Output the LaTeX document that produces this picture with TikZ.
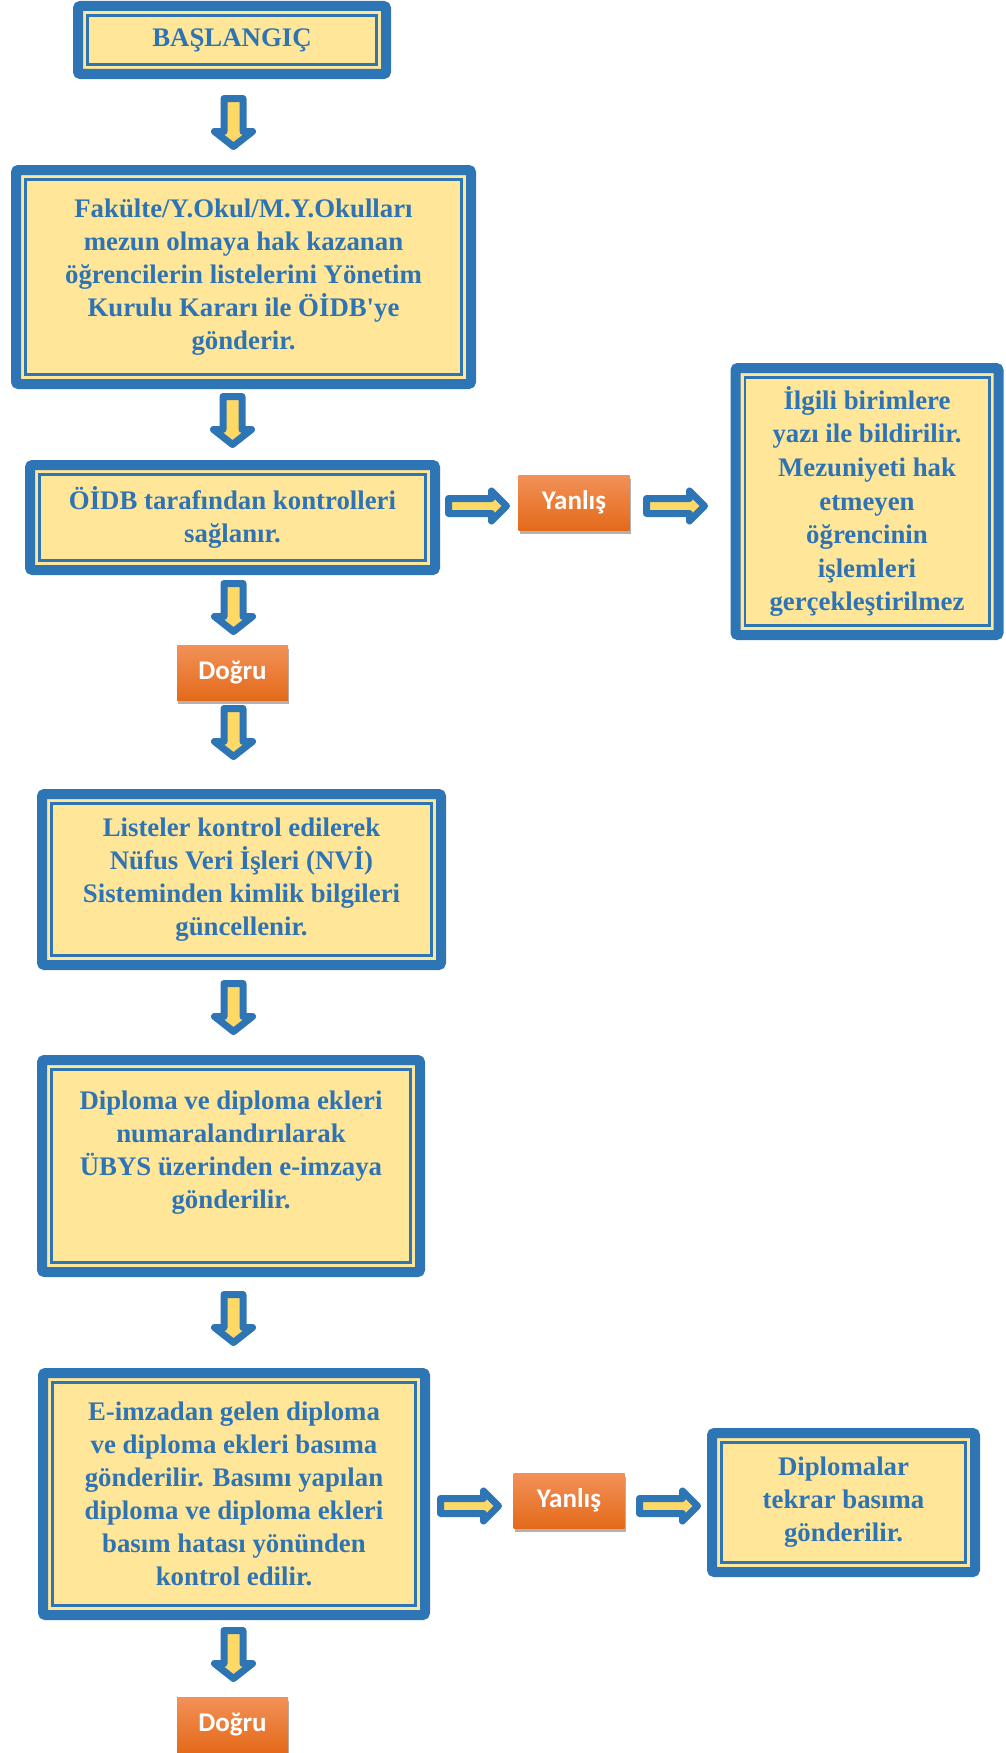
\documentclass[tikz,border=0pt]{standalone}
\usepackage{fontspec}
\setmainfont{Liberation Serif}
\newfontfamily\btnfont{Carlito}
\usetikzlibrary{calc,shadows}
\definecolor{bblue}{RGB}{46,117,182}
\definecolor{tblue}{RGB}{46,116,181}
\definecolor{byel}{RGB}{255,230,153}
\definecolor{ayel}{RGB}{255,217,102}
\definecolor{otop}{RGB}{242,145,88}
\definecolor{obot}{RGB}{228,106,26}
\begin{document}
\begin{tikzpicture}[x=1pt,y=-1pt,
  fbox/.style 2 args={draw=bblue, line width=10pt, rounded corners=2.5pt, fill=byel,
    text=tblue, align=center, inner sep=0pt,
    font=\fontsize{26.8}{33}\selectfont\bfseries,
    minimum width=#1-10pt, minimum height=#2-10pt,
    path picture={\draw[bblue, line width=2.8pt, sharp corners]
      ($(path picture bounding box.north west)+(9.4pt,-9.4pt)$) rectangle
      ($(path picture bounding box.south east)+(-9.4pt,9.4pt)$);}},
  btn/.style={minimum width=111pt, minimum height=55pt, inner sep=0pt,
    top color=otop, bottom color=obot, text=white,
    font=\btnfont\bfseries\fontsize{27}{32}\selectfont,
    drop shadow={shadow xshift=1pt, shadow yshift=-4pt, opacity=0.3, fill=black}},
  arrsty/.style={draw=bblue, line width=7pt, line join=round, fill=ayel},
  darr/.pic={\path[arrsty] (-9.5,3.5) -- (9.5,3.5) -- (9.5,36.5) -- (19,36.5) -- (0,51.5)
     -- (-19,36.5) -- (-9.5,36.5) -- cycle;},
  rarr/.pic={\path[arrsty] (3.5,-7.5) -- (46.5,-7.5) -- (46.5,-15) -- (61.5,0)
     -- (46.5,15) -- (46.5,7.5) -- (3.5,7.5) -- cycle;}
]
\useasboundingbox (0,0) rectangle (1005,1753);

% main column
\node[fbox={318pt}{78pt}] (start) at (232,40) {BAŞLANGIÇ};
\node[fbox={465pt}{224pt}] (fac) at (243.5,277) {Fakülte/Y.Okul/M.Y.Okulları\\mezun olmaya hak kazanan\\öğrencilerin listelerini Yönetim\\Kurulu Kararı ile ÖİDB\textquotesingle ye\\gönderir.};
\node[fbox={415pt}{115pt}] (oidb) at (232.5,517.5) {ÖİDB tarafından kontrolleri\\sağlanır.};
\node[btn] (dog1) at (232.5,672.5) {Doğru};
\node[fbox={409pt}{181pt}] (list) at (241.5,879.5) {Listeler kontrol edilerek\\Nüfus Veri İşleri (NVİ)\\Sisteminden kimlik bilgileri\\güncellenir.};
\node[fbox={388pt}{222pt}] (dipl) at (231,1166) {Diploma ve diploma ekleri\\numaralandırılarak\\ÜBYS üzerinden e-imzaya\\gönderilir.\\~};
\node[fbox={392pt}{252pt}] (eimza) at (234,1494) {E-imzadan gelen diploma\\ve diploma ekleri basıma\\gönderilir. Basımı yapılan\\diploma ve diploma ekleri\\basım hatası yönünden\\kontrol edilir.};
\node[btn] (dog2) at (232.5,1724.5) {Doğru};

% right branches
\node[btn] (yan1) at (574,502.5) {Yanlış};
\node[fbox={273pt}{277pt}, font=\fontsize{26.8}{33.6}\selectfont\bfseries] (ilgili) at (867,501.5) {İlgili birimlere\\yazı ile bildirilir.\\Mezuniyeti hak\\etmeyen\\öğrencinin\\işlemleri\\gerçekleştirilmez};
\node[btn] (yan2) at (569,1500.5) {Yanlış};
\node[fbox={273pt}{149pt}] (tekrar) at (843.5,1502.5) {Diplomalar\\tekrar basıma\\gönderilir.};

% block arrows
\pic at (233.5,95) {darr};
\pic at (232.5,393) {darr};
\pic at (233.5,580) {darr};
\pic at (233.5,705) {darr};
\pic at (233.5,980) {darr};
\pic at (233.5,1291) {darr};
\pic at (233.5,1627) {darr};
\pic at (445,506) {rarr};
\pic at (643,506) {rarr};
\pic at (437,1506) {rarr};
\pic at (636,1506) {rarr};
\end{tikzpicture}
\end{document}
